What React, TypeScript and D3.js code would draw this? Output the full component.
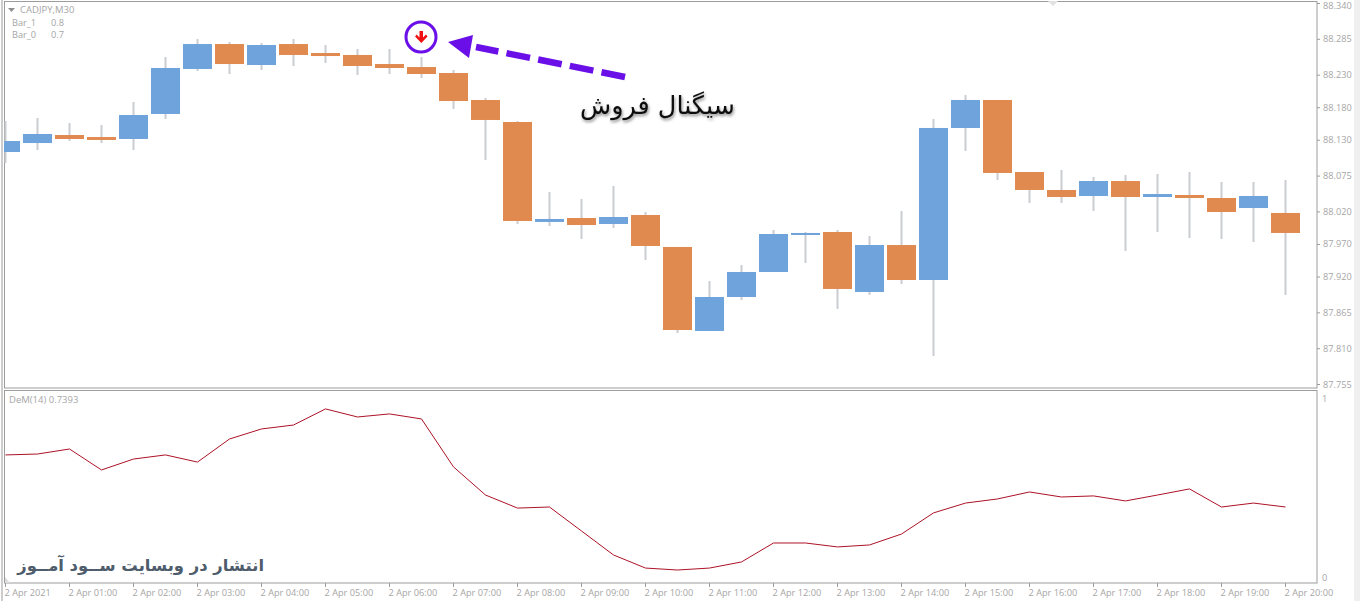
import React from "react";
import * as d3 from "d3";

const W = 1360, H = 601;
const opens = [88.1112,88.1250,88.1373,88.1342,88.1312,88.1696,88.2387,88.2770,88.2448,88.2770,88.2632,88.2602,88.2463,88.2417,88.2325,88.1911,88.1573,88.0038,88.0099,88.0007,88.0145,87.9654,87.8364,87.8886,87.9270,87.9838,87.9884,87.8963,87.9684,87.9147,88.1481,88.1911,88.0805,88.0529,88.0437,88.0667,88.0421,88.0452,88.0406,88.0252,88.0176];
const closes = [88.1281,88.1389,88.1312,88.1297,88.1680,88.2402,88.2770,88.2463,88.2755,88.2602,88.2586,88.2433,88.2402,88.2310,88.1895,88.1604,88.0053,88.0084,87.9991,88.0114,87.9669,87.8379,87.8886,87.9270,87.9853,87.9869,87.9009,87.9684,87.9147,88.1481,88.1911,88.0790,88.0529,88.0421,88.0667,88.0421,88.0467,88.0406,88.0191,88.0437,87.9869];
const highs = [88.1588,88.1634,88.1558,88.1527,88.1880,88.2571,88.2847,88.2801,88.2786,88.2847,88.2755,88.2694,88.2694,88.2571,88.2371,88.1941,88.1588,88.0498,88.0391,88.0590,88.0191,87.9654,87.9131,87.9377,87.9915,87.9884,87.9915,87.9822,88.0206,88.1619,88.1987,88.1911,88.0805,88.0836,88.0728,88.0759,88.0774,88.0805,88.0652,88.0652,88.0682];
const lows = [88.0943,88.1143,88.1281,88.1250,88.1143,88.1619,88.2356,88.2310,88.2371,88.2433,88.2479,88.2294,88.2310,88.2248,88.1772,88.0989,88.0007,87.9976,87.9776,87.9945,87.9454,87.8333,87.8364,87.8840,87.9270,87.9408,87.8702,87.8917,87.9085,87.7980,88.1128,88.0682,88.0329,88.0329,88.0206,87.9592,87.9884,87.9792,87.9776,87.9730,87.8917];
const demValues = [0.682,0.687,0.715,0.598,0.659,0.682,0.642,0.771,0.827,0.849,0.939,0.894,0.911,0.883,0.615,0.458,0.385,0.391,0.257,0.123,0.050,0.039,0.050,0.084,0.190,0.190,0.168,0.179,0.240,0.358,0.413,0.436,0.475,0.447,0.453,0.425,0.458,0.492,0.391,0.413,0.391];
const priceTicks = ["88.340","88.285","88.230","88.180","88.130","88.075","88.020","87.970","87.920","87.865","87.810","87.755"];
const timeLabels = ["2 Apr 2021","2 Apr 01:00","2 Apr 02:00","2 Apr 03:00","2 Apr 04:00","2 Apr 05:00","2 Apr 06:00","2 Apr 07:00","2 Apr 08:00","2 Apr 09:00","2 Apr 10:00","2 Apr 11:00","2 Apr 12:00","2 Apr 13:00","2 Apr 14:00","2 Apr 15:00","2 Apr 16:00","2 Apr 17:00","2 Apr 18:00","2 Apr 19:00","2 Apr 20:00"];

const AXIS_FONT = "'Open Sans', sans-serif";
const GRAY = "#a6a6a6";
const BORDER = "#9c9c9c";
const BLUE = "#6fa3dc";
const ORANGE = "#e08a50";
const WICK = "#c9cdd2";
const PURPLE = "#6a0fe8";

const x = d3.scaleLinear().domain([0, 40]).range([5.5, 1285.5]);
const y = d3.scaleLinear().domain([87.755, 88.34]).range([384, 3]);
const yDem = d3.scaleLinear().domain([0, 1]).range([577, 398]);
const demLine = d3.line<number>().x((_, i) => x(i)).y((d) => yDem(d));
const BODY = 29;

export default function App() {
  return (
    <svg width={W} height={H} viewBox={`0 0 ${W} ${H}`} style={{ position: "absolute", left: 0, top: 0, background: "#fff" }}>
      <defs>
        <filter id="shadow" x="-10%" y="-30%" width="120%" height="160%">
          <feDropShadow dx="1" dy="2" stdDeviation="1.5" floodColor="#000" floodOpacity="0.45" />
        </filter>
        <clipPath id="main"><rect x={4} y={1} width={1313} height={387} /></clipPath>
      </defs>
      <rect x={1354} y={0} width={6} height={H} fill="#f0f0f0" />
      <rect x={1.5} y={0} width={1} height={H} fill={BORDER} />
      <rect x={4.5} y={1.5} width={1312.5} height={386.5} fill="#fff" stroke={BORDER} />
      <rect x={4.5} y={390.5} width={1312.5} height={192.5} fill="#fff" stroke={BORDER} />

      <g clipPath="url(#main)">
        {opens.map((o, i) => {
          const c = closes[i];
          const up = c > o;
          const top = y(Math.max(o, c));
          const bottom = y(Math.min(o, c));
          return (
            <g key={i}>
              <line x1={x(i)} x2={x(i)} y1={y(highs[i])} y2={y(lows[i])} stroke={WICK} strokeWidth={2} />
              <rect x={x(i) - BODY / 2} y={top} width={BODY} height={Math.max(bottom - top, 1)} fill={up ? BLUE : ORANGE} />
            </g>
          );
        })}
      </g>
      <path d="M1048,1 L1058,1 L1053,6 Z" fill="#e2e2e2" />
      <path d="M5,583 L5,577 L10,583 Z" fill="#dcdcdc" />

      {priceTicks.map((t) => (
        <g key={t}>
          <line x1={1317} x2={1320} y1={y(+t) + 0.5} y2={y(+t) + 0.5} stroke={BORDER} />
          <text x={1323} y={Math.max(y(+t) + 3.5, 8.5)} fontSize={9.2} fontFamily={AXIS_FONT} fill={GRAY}>{t}</text>
        </g>
      ))}
      {timeLabels.map((t, i) => (
        <g key={t}>
          <line x1={x(i * 2)} x2={x(i * 2)} y1={583} y2={587} stroke={BORDER} />
          <text x={x(i * 2) - 1} y={596} fontSize={9.2} fontFamily={AXIS_FONT} fill={GRAY}>{t}</text>
        </g>
      ))}
      <text x={1322} y={yDem(1) + 3.5} fontSize={9.2} fontFamily={AXIS_FONT} fill={GRAY}>1</text>
      <text x={1322} y={yDem(0) + 3.5} fontSize={9.2} fontFamily={AXIS_FONT} fill={GRAY}>0</text>

      <path d="M8,8 L15,8 L11.5,12 Z" fill="#8f8f8f" />
      <text x={20} y={13} fontSize={9.5} fontFamily={AXIS_FONT} fill={GRAY}>CADJPY,M30</text>
      <text x={12} y={26} fontSize={9.2} fontFamily={AXIS_FONT} fill={GRAY}>Bar_1</text>
      <text x={51} y={26} fontSize={9.2} fontFamily={AXIS_FONT} fill={GRAY}>0.8</text>
      <text x={12} y={38} fontSize={9.2} fontFamily={AXIS_FONT} fill={GRAY}>Bar_0</text>
      <text x={51} y={38} fontSize={9.2} fontFamily={AXIS_FONT} fill={GRAY}>0.7</text>
      <text x={9} y={403} fontSize={9.5} fontFamily={AXIS_FONT} fill={GRAY}>DeM(14) 0.7393</text>

      <path d={demLine(demValues) ?? ""} fill="none" stroke="#ad1226" strokeWidth={1} />

      <circle cx={x(13) - 0.5} cy={37} r={15} fill="#fff" stroke={PURPLE} strokeWidth={3} />
      <path d="M419.5,31 h3.5 v6.5 l3,-3 l1.5,2 l-6.2,6.5 l-6.2,-6.5 l1.5,-2 l2.9,3 Z" fill="#f01010" />
      <path d="M448,42 L473,35 L469,58 Z" fill={PURPLE} />
      <line x1={625} y1={77} x2={476} y2={47} stroke={PURPLE} strokeWidth={6.5} strokeDasharray="24 8.3" strokeLinecap="butt" />

      <text x={735} y={114} direction="rtl" fontSize={25.5} fontFamily="'DejaVu Sans', sans-serif" fill="#111" filter="url(#shadow)">سیگنال فروش</text>
      <text x={264} y={571} direction="rtl" fontSize={16.4} fontWeight="bold" fontFamily="'DejaVu Sans', sans-serif" fill="#4e5c6b">انتشار در وبسایت ســود آمــوز</text>
    </svg>
  );
}
